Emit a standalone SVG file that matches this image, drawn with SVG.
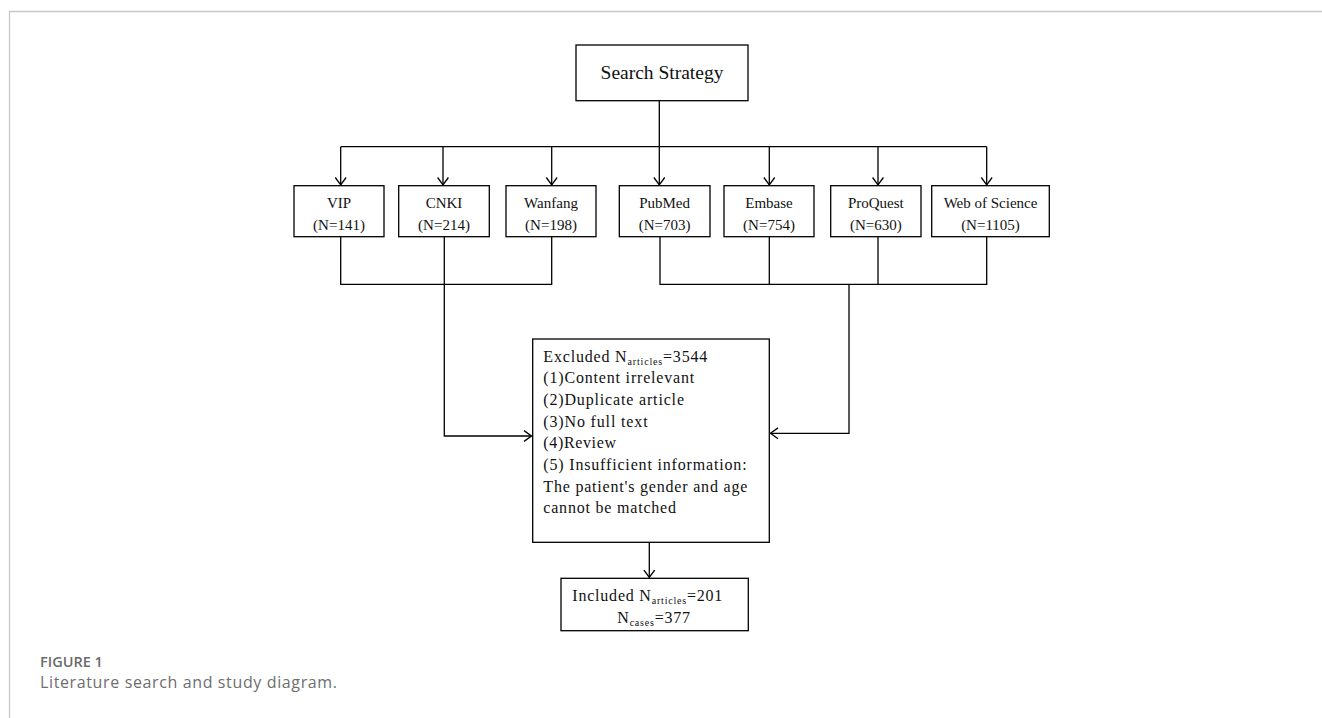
<svg xmlns="http://www.w3.org/2000/svg" width="1322" height="718" viewBox="0 0 1322 718">
<style>
.box{fill:#fff;stroke:#000;stroke-width:1.3}
.t{font-family:"Liberation Serif","Times New Roman",serif;font-size:15px;fill:#111;text-anchor:middle}
.x{font-family:"Liberation Serif","Times New Roman",serif;font-size:16px;fill:#111}
.sub{font-size:10px}
.ln{fill:none;stroke:#000;stroke-width:1.3}
.cap{font-family:"Open Sans","Liberation Sans",sans-serif}
</style>
<defs>
<marker id="arr" markerUnits="userSpaceOnUse" markerWidth="14" markerHeight="14" refX="8" refY="6" orient="auto" viewBox="0 0 14 12">
<path d="M0.5,0.6 L8,6 L0.5,11.4" fill="none" stroke="#000" stroke-width="1.3"/>
</marker>
</defs>
<rect width="1322" height="718" fill="#fff"/>
<path d="M9.5,718 V11.5 H1322" fill="none" stroke="#c8c8c8" stroke-width="1.3"/>

<g id="connectors">
<path class="ln" d="M659.3,100.7 V146.7 M340.7,146.7 H986.7"/>
<path class="ln" d="M340.7,146.7 V185" marker-end="url(#arr)"/>
<path class="ln" d="M443,146.7 V185" marker-end="url(#arr)"/>
<path class="ln" d="M551.7,146.7 V185" marker-end="url(#arr)"/>
<path class="ln" d="M659.3,146.7 V185" marker-end="url(#arr)"/>
<path class="ln" d="M769.3,146.7 V185" marker-end="url(#arr)"/>
<path class="ln" d="M878,146.7 V185" marker-end="url(#arr)"/>
<path class="ln" d="M986.7,146.7 V185" marker-end="url(#arr)"/>
<path class="ln" d="M340.7,236.7 V284.3 H551.7 V236.7"/>
<path class="ln" d="M444.3,236.7 V436 H531.5" marker-end="url(#arr)"/>
<path class="ln" d="M660,236.7 V284.3 H986.7 V236.7 M769.3,236.7 V284.3 M878,236.7 V284.3"/>
<path class="ln" d="M849,284.3 V433.3 H770.5" marker-end="url(#arr)"/>
<path class="ln" d="M649.3,542.3 V577.5" marker-end="url(#arr)"/>
</g>

<g id="search-strategy">
<rect class="box" x="576" y="45" width="172" height="55.7"/>
<text class="t" x="662" y="79" style="font-size:19.5px">Search Strategy</text>
</g>

<g id="vip">
<rect class="box" x="294" y="185.7" width="90" height="51"/>
<text class="t" x="339" y="208.3">VIP</text>
<text class="t" x="339" y="229.8">(N=141)</text>
</g>
<g id="cnki">
<rect class="box" x="398.7" y="185.7" width="90.6" height="51"/>
<text class="t" x="444" y="208.3">CNKI</text>
<text class="t" x="444" y="229.8">(N=214)</text>
</g>
<g id="wanfang">
<rect class="box" x="506" y="185.7" width="90" height="51"/>
<text class="t" x="551" y="208.3">Wanfang</text>
<text class="t" x="551" y="229.8">(N=198)</text>
</g>
<g id="pubmed">
<rect class="box" x="619.3" y="185.7" width="90.7" height="51"/>
<text class="t" x="664.6" y="208.3">PubMed</text>
<text class="t" x="664.6" y="229.8">(N=703)</text>
</g>
<g id="embase">
<rect class="box" x="724" y="185.7" width="90" height="51"/>
<text class="t" x="769" y="208.3">Embase</text>
<text class="t" x="769" y="229.8">(N=754)</text>
</g>
<g id="proquest">
<rect class="box" x="830.7" y="185.7" width="90.3" height="51"/>
<text class="t" x="875.8" y="208.3">ProQuest</text>
<text class="t" x="875.8" y="229.8">(N=630)</text>
</g>
<g id="web-of-science">
<rect class="box" x="931.7" y="185.7" width="117.6" height="51"/>
<text class="t" x="990.5" y="208.3">Web of Science</text>
<text class="t" x="990.5" y="229.8">(N=1105)</text>
</g>

<g id="excluded">
<rect class="box" x="532.7" y="339" width="236.6" height="203.3"/>
<text class="x" x="543.3" y="361.7" textLength="164" lengthAdjust="spacing">Excluded N<tspan class="sub" dy="3">articles</tspan><tspan dy="-3">=3544</tspan></text>
<text class="x" x="543.3" y="383.3" textLength="151" lengthAdjust="spacing">(1)Content irrelevant</text>
<text class="x" x="543.3" y="405" textLength="140.7" lengthAdjust="spacing">(2)Duplicate article</text>
<text class="x" x="543.3" y="426.7" textLength="104.3" lengthAdjust="spacing">(3)No full text</text>
<text class="x" x="543.3" y="448.3" textLength="72.7" lengthAdjust="spacing">(4)Review</text>
<text class="x" x="543.3" y="470" textLength="203.3" lengthAdjust="spacing">(5) Insufficient information:</text>
<text class="x" x="543.3" y="491.7" textLength="204" lengthAdjust="spacing">The patient's gender and age</text>
<text class="x" x="543.3" y="513.3" textLength="132.7" lengthAdjust="spacing">cannot be matched</text>
</g>

<g id="included">
<rect class="box" x="561" y="578.3" width="187.3" height="52.4"/>
<text class="x" x="572.3" y="600.7" textLength="150" lengthAdjust="spacing">Included N<tspan class="sub" dy="3">articles</tspan><tspan dy="-3">=201</tspan></text>
<text class="x" x="617.3" y="623.3" textLength="72.7" lengthAdjust="spacing">N<tspan class="sub" dy="3">cases</tspan><tspan dy="-3">=377</tspan></text>
</g>

<g id="caption">
<text class="cap" x="40" y="666.7" style="font-size:14.5px;font-weight:600;fill:#6b6b6b">FIGURE 1</text>
<text class="cap" x="40" y="688" style="font-size:16px;fill:#6e6e6e" textLength="297" lengthAdjust="spacing">Literature search and study diagram.</text>
</g>
</svg>
